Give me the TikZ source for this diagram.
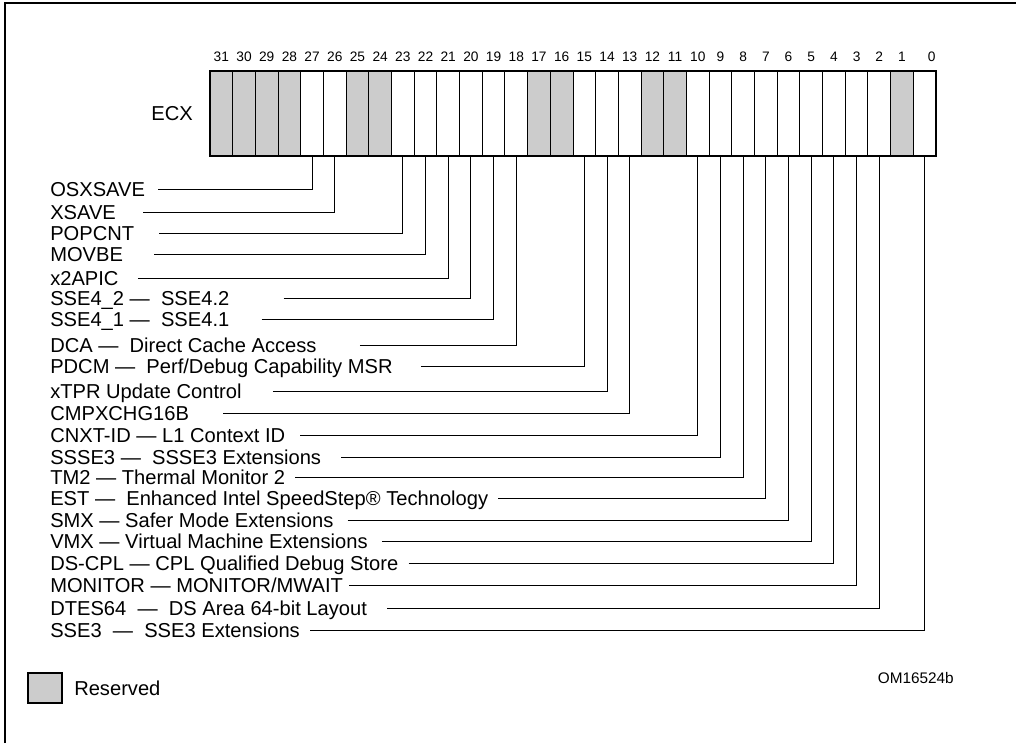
\documentclass[tikz,border=0pt]{standalone}
\usepackage{fontspec}
\setmainfont{Liberation Sans}
\usetikzlibrary{positioning}
\definecolor{resgray}{RGB}{204,204,204}

\begin{document}
\begin{tikzpicture}[
		x=0.75pt, y=-0.75pt,
		bitcell/.style={draw, line width=0.75pt, minimum width=17.016pt, minimum height=63.75pt, inner sep=0pt, outer sep=0pt},
		reserved/.style={bitcell, fill=resgray},
		bitnum/.style={font=\fontsize{10.3}{12}\selectfont, inner sep=0pt, text depth=0pt},
		lbl/.style={font=\fontsize{15.1}{17}\selectfont, anchor=west, inner sep=0pt, text height=10.8pt, text depth=0pt},
		leader/.style={line width=0.75pt, black},
		regframe/.style={line width=1.2pt},
		frame/.style={line width=1.5pt}
		]
		\useasboundingbox (0,0) rectangle (1016,743);
		\draw[frame] (5,743) |- (1016,3);
		
		% ---------------------------------------------------------
		% Register cells, bit 31 on the left
		% ---------------------------------------------------------
		\foreach \i in {31,30,29,28,25,24,17,16,12,11,1} {
			\node[reserved] (c\i) at ({210+(31.5-\i)*22.6875},113.5) {};
		}
		\foreach \i in {27,26,23,22,21,20,19,18,15,14,13,10,9,8,7,6,5,4,3,2,0} {
			\node[bitcell] (c\i) at ({210+(31.5-\i)*22.6875},113.5) {};
		}
		\draw[regframe] (c31.north west) rectangle (c0.south east);
		
		% Bit numbers
		\foreach \i in {1,...,31} {
			\node[bitnum, above=6.75pt of c\i] (n\i) {\i};
		}
		\node[bitnum, above=6.75pt of c0, xshift=5.25pt] (n0) {0};
		
		\node[lbl, anchor=east, left=12.75pt of c31] (ecx) {ECX};
		
		% ---------------------------------------------------------
		% Feature flags with leaders to their bits
		% ---------------------------------------------------------
		\foreach \b/\y/\g/\t in {
			27/189.5/13/{OSXSAVE},
			26/212/27/{XSAVE},
			23/233/25/{POPCNT},
			22/254.5/31/{MOVBE},
			21/278/19/{x2APIC},
			20/298/54/{SSE4\_2 —\ \ SSE4.2},
			19/319.5/32/{SSE4\_1 —\ \ SSE4.1},
			18/345/43/{DCA —\ \ Direct Cache Access},
			15/366.5/28/{PDCM —\ \ Perf/Debug Capability MSR},
			14/391/31/{xTPR Update Control},
			13/413/34/{CMPXCHG16B},
			10/435/15/{CNXT-ID — L1 Context ID},
			9/457/20/{SSSE3 —\ \ SSSE3 Extensions},
			8/477/10/{TM2 — Thermal Monitor 2},
			7/498/10/{EST —\ \ Enhanced Intel SpeedStep® Technology},
			6/520/14/{SMX — Safer Mode Extensions},
			5/541/14/{VMX — Virtual Machine Extensions},
			4/563/10/{DS-CPL — CPL Qualified Debug Store},
			3/585/6/{MONITOR — MONITOR/MWAIT},
			2/608/20/{DTES64\ \ —\ \ DS Area 64-bit Layout},
			0/630/10/{SSE3\ \ —\ \ SSE3 Extensions}} {
			\node[lbl] (l\b) at (50,\y) {\t};
			\draw[leader] ([xshift={\g*0.75pt}]l\b.east) -- (l\b.east -| c\b.south) -- (c\b.south);
		}
		
		% ---------------------------------------------------------
		% Legend and figure number
		% ---------------------------------------------------------
		\node[reserved, line width=1pt, minimum width=25.5pt, minimum height=22.5pt] (rsv) at (45,688) {};
		\node[lbl, right=9pt of rsv] (rsvtxt) {Reserved};
		\node[font=\fontsize{11.5}{13}\selectfont, anchor=east, inner sep=0pt] (omid) at (954,678) {OM16524b};
		
	\end{tikzpicture}
\end{document}
